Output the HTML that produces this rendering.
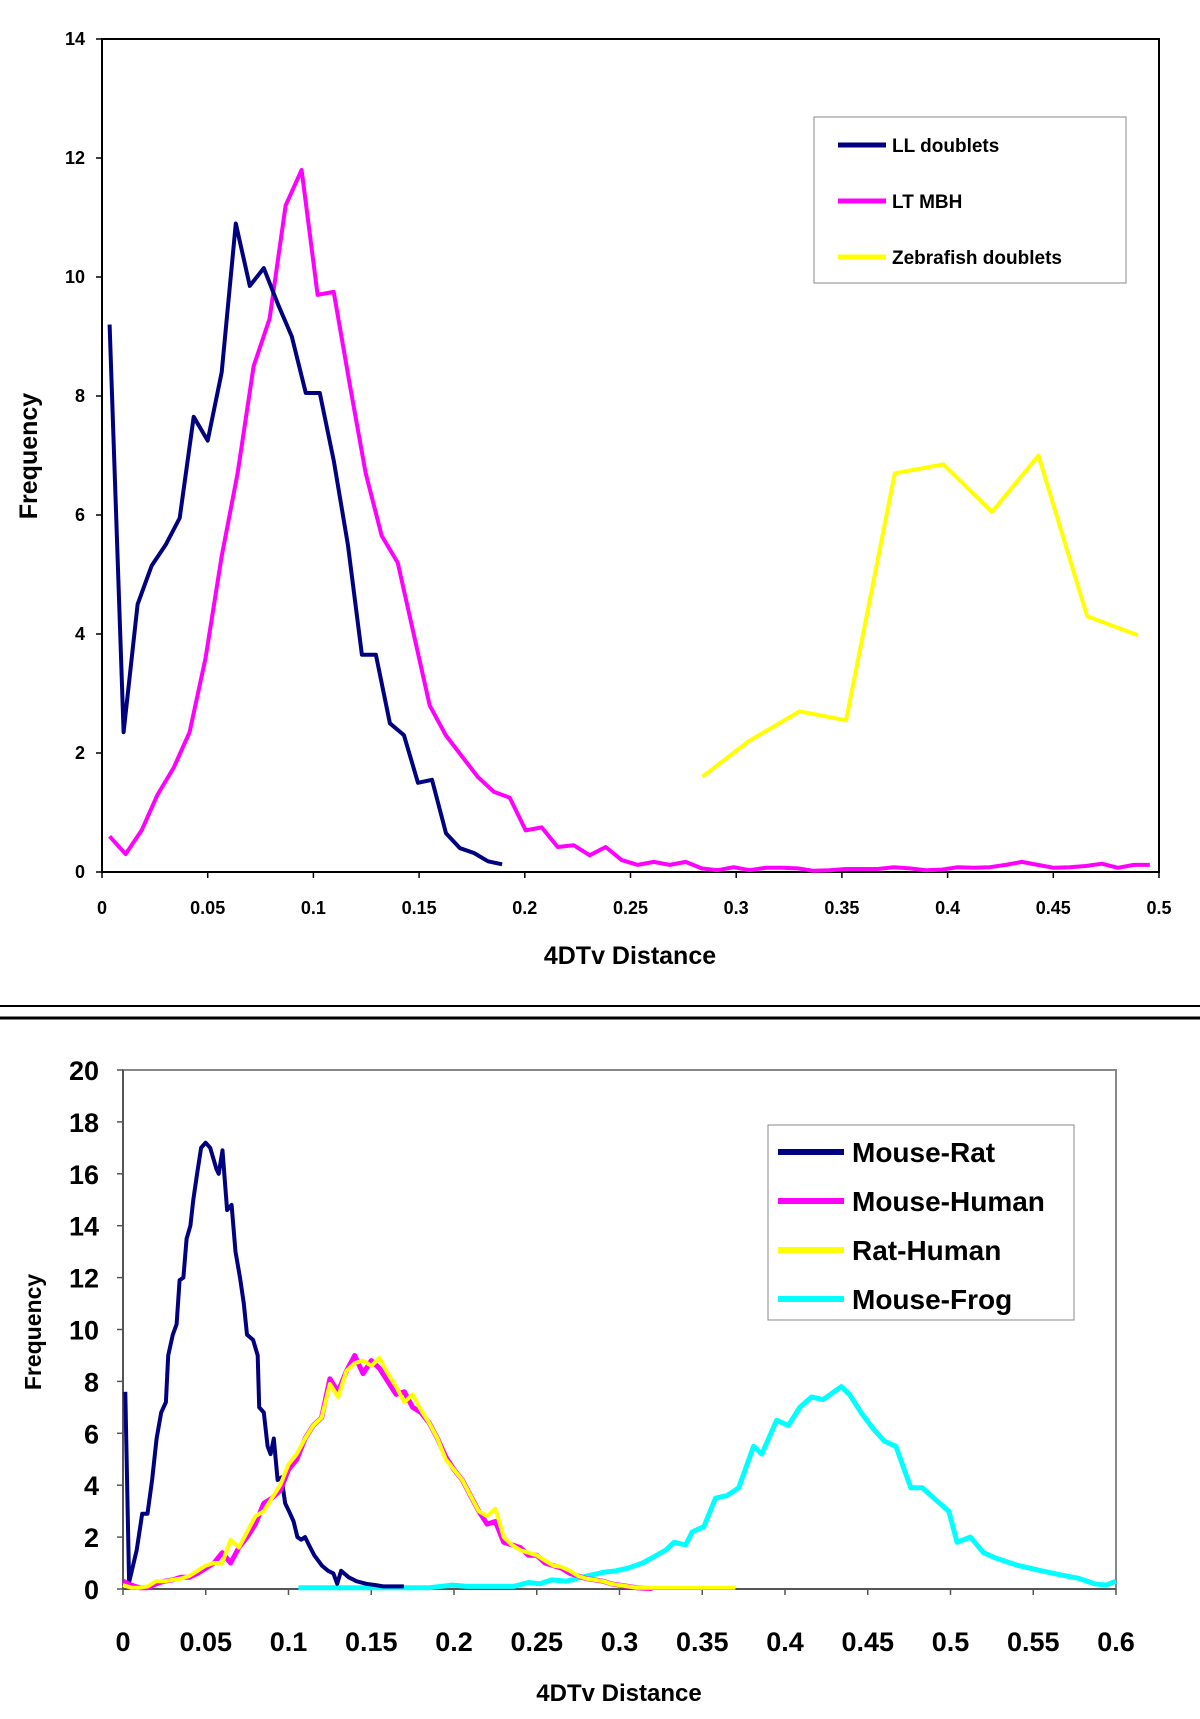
<!DOCTYPE html>
<html><head><meta charset="utf-8">
<style>
html,body{margin:0;padding:0;background:#fff;}
svg{display:block;font-family:"Liberation Sans",Arial,sans-serif;}
</style></head>
<body>
<svg id="fig" width="1200" height="1719" viewBox="0 0 1200 1719" xmlns="http://www.w3.org/2000/svg">
  <rect x="0" y="0" width="1200" height="1719" fill="#fff"/>
  <line x1="0" y1="1006" x2="1200" y2="1006" stroke="#000" stroke-width="2"/>
  <line x1="0" y1="1018" x2="1200" y2="1018" stroke="#000" stroke-width="3"/>
  <g id="top"></g>
  <g id="bot"></g>
</svg>
<script>
// ---------- TOP CHART DATA ----------
const llStart = 0.0036, llStep = 0.00663;
const llValues = [9.2,2.35,4.5,5.15,5.5,5.95,7.65,7.25,8.4,10.9,9.85,10.15,9.55,9.0,8.05,8.05,6.9,5.5,3.65,3.65,2.5,2.3,1.5,1.55,0.65,0.4,0.32,0.18,0.13];
const mbhStart = 0.0036, mbhStep = 0.00757;
const mbhValues = [0.6,0.3,0.7,1.3,1.75,2.35,3.6,5.3,6.7,8.5,9.3,11.2,11.8,9.7,9.75,8.2,6.7,5.65,5.2,4.0,2.8,2.3,1.95,1.6,1.35,1.25,0.7,0.75,0.42,0.45,0.28,0.42,0.2,0.12,0.17,0.12,0.17,0.06,0.03,0.08,0.03,0.07,0.07,0.06,0.02,0.03,0.05,0.05,0.05,0.08,0.06,0.03,0.04,0.08,0.07,0.08,0.12,0.17,0.12,0.07,0.08,0.1,0.14,0.07,0.12,0.12];
const zfX = [0.284,0.306,0.330,0.352,0.375,0.398,0.421,0.443,0.466,0.490];
const zfValues = [1.6,2.2,2.7,2.55,6.7,6.85,6.05,7.0,4.3,3.98];
const topYTicks = [0,2,4,6,8,10,12,14];
const topXTicks = [0,0.05,0.1,0.15,0.2,0.25,0.3,0.35,0.4,0.45,0.5];
const topXLabels = ["0","0.05","0.1","0.15","0.2","0.25","0.3","0.35","0.4","0.45","0.5"];
const topLegend = ["LL doublets","LT MBH","Zebrafish doublets"];

// ---------- BOTTOM CHART DATA ----------
const mrX = [0.0014,0.0037,0.0083,0.0116,0.0148,0.0176,0.0203,0.0231,0.0259,0.0273,0.0301,0.0324,0.0342,0.0365,0.0384,0.0407,0.0425,0.0448,0.0472,0.0499,0.0527,0.0564,0.0578,0.0601,0.0629,0.0656,0.068,0.0707,0.073,0.0749,0.0786,0.0814,0.0823,0.0851,0.0874,0.0892,0.0911,0.0934,0.0957,0.098,0.1003,0.1031,0.1054,0.1077,0.11,0.1123,0.1156,0.1202,0.1239,0.1271,0.1294,0.1318,0.1364,0.141,0.147,0.1526,0.1572,0.1641,0.1697];
const mrValues = [7.6,0.26,1.5,2.9,2.9,4.2,5.8,6.8,7.2,9,9.8,10.2,11.9,12,13.5,14,15,16,17,17.2,17,16.2,16,16.9,14.6,14.8,13,12,11,9.8,9.6,9,7,6.8,5.5,5.2,5.8,4.2,4.3,3.3,3.0,2.6,2.0,1.9,2.0,1.7,1.3,0.9,0.7,0.6,0.2,0.7,0.45,0.3,0.2,0.15,0.1,0.1,0.1];
const gridStep = 0.005;
const mhValues = [0.3,0.15,0.05,0.05,0.2,0.3,0.35,0.45,0.45,0.6,0.8,1.0,1.4,1.0,1.6,2.0,2.5,3.3,3.5,3.8,4.6,5.0,5.8,6.3,6.6,8.1,7.6,8.4,9.0,8.3,8.8,8.5,8.0,7.5,7.6,7.0,6.8,6.4,5.8,5.1,4.6,4.2,3.6,3.0,2.5,2.6,1.8,1.7,1.6,1.3,1.3,1.0,0.9,0.8,0.6,0.5,0.4,0.35,0.3,0.2,0.15,0.1,0.05,0.03,0.02];
const rhValues = [0.15,0.05,0.05,0.1,0.3,0.3,0.35,0.4,0.5,0.7,0.9,1.0,1.0,1.9,1.6,2.2,2.8,3.0,3.5,4.0,4.8,5.2,5.8,6.3,6.6,7.9,7.4,8.4,8.7,8.8,8.6,8.9,8.3,7.8,7.2,7.5,6.9,6.4,5.8,5.0,4.6,4.2,3.6,3.0,2.8,3.1,2.0,1.7,1.5,1.4,1.3,1.1,0.9,0.85,0.7,0.5,0.4,0.35,0.3,0.2,0.15,0.1,0.05,0.05,0.05,0.05,0.05,0.05,0.05,0.05,0.05,0.05,0.05,0.05,0.05];
const mfX = [0.106,0.185,0.199,0.208,0.236,0.245,0.252,0.259,0.268,0.277,0.284,0.291,0.298,0.305,0.314,0.321,0.328,0.333,0.34,0.344,0.351,0.358,0.365,0.372,0.381,0.386,0.395,0.402,0.409,0.416,0.423,0.434,0.439,0.446,0.453,0.46,0.467,0.476,0.483,0.49,0.499,0.504,0.512,0.52,0.527,0.541,0.548,0.555,0.566,0.578,0.587,0.594,0.6];
const mfValues = [0.05,0.05,0.15,0.1,0.1,0.25,0.2,0.35,0.3,0.45,0.55,0.65,0.7,0.8,1.0,1.25,1.5,1.8,1.7,2.2,2.4,3.5,3.6,3.9,5.5,5.2,6.5,6.3,7.0,7.4,7.3,7.8,7.5,6.8,6.2,5.7,5.5,3.9,3.9,3.5,3.0,1.8,2.0,1.4,1.2,0.9,0.8,0.7,0.55,0.4,0.2,0.15,0.3];
const botYTicks = [0,2,4,6,8,10,12,14,16,18,20];
const botXTicks = [0,0.05,0.1,0.15,0.2,0.25,0.3,0.35,0.4,0.45,0.5,0.55,0.6];
const botXLabels = ["0","0.05","0.1","0.15","0.2","0.25","0.3","0.35","0.4","0.45","0.5","0.55","0.6"];
const botLegend = ["Mouse-Rat","Mouse-Human","Rat-Human","Mouse-Frog"];

const NS = "http://www.w3.org/2000/svg";
function mk(parent, tag, attrs, text){
  const el = document.createElementNS(NS, tag);
  for (const k in attrs) el.setAttribute(k, attrs[k]);
  if (text !== undefined) el.textContent = text;
  parent.appendChild(el);
  return el;
}
function scale(d0,d1,r0,r1){ return v => r0 + (v-d0)/(d1-d0)*(r1-r0); }
function pathFrom(xs, ys, sx, sy){
  return xs.map((x,i)=> (i?'L':'M') + sx(x).toFixed(1) + ',' + sy(ys[i]).toFixed(1)).join(' ');
}

// ---------- TOP ----------
(function(){
  const g = document.getElementById('top');
  const L=102, R=1159, T=39, B=872;
  const sx = scale(0,0.5,L,R), sy = scale(0,14,B,T);
  const frame = mk(g,'rect',{x:L,y:T,width:R-L,height:B-T,fill:'none',stroke:'#000','stroke-width':2});
  
  
  topYTicks.forEach(v=>{
    const t = mk(g,'line',{x1:L-6,x2:L,y1:sy(v),y2:sy(v),stroke:'#000','stroke-width':1.5});
    
    
    const lb = mk(g,'text',{x:L-17,y:sy(v)+6,'text-anchor':'end','font-size':18,'font-weight':'bold'},String(v));
    
    
  });
  topXTicks.forEach((v,i)=>{
    const t = mk(g,'line',{x1:sx(v),x2:sx(v),y1:B,y2:B+6,stroke:'#000','stroke-width':1.5});
    
    
    const lb = mk(g,'text',{x:sx(v),y:914,'text-anchor':'middle','font-size':18,'font-weight':'bold'},topXLabels[i]);
    
    
  });
  const xt = mk(g,'text',{x:630,y:964,'text-anchor':'middle','font-size':25,'font-weight':'bold'},'4DTv Distance');
  
  
  const yt = mk(g,'text',{x:0,y:0,transform:'translate(37,456) rotate(-90)','text-anchor':'middle','font-size':25,'font-weight':'bold'},'Frequency');
  
  

  const llX = llValues.map((_,i)=>llStart+i*llStep);
  const mbhX = mbhValues.map((_,i)=>mbhStart+i*mbhStep);
  const s1 = mk(g,'path',{d:pathFrom(mbhX,mbhValues,sx,sy),fill:'none',stroke:'#ff00ff','stroke-width':4,'stroke-linejoin':'round'});
  
  
  const s0 = mk(g,'path',{d:pathFrom(llX,llValues,sx,sy),fill:'none',stroke:'#000080','stroke-width':4,'stroke-linejoin':'round'});
  
  
  const s2 = mk(g,'path',{d:pathFrom(zfX,zfValues,sx,sy),fill:'none',stroke:'#ffff00','stroke-width':4,'stroke-linejoin':'round'});
  
  

  const lg = mk(g,'g',{});
  
  
  mk(lg,'rect',{x:814,y:117,width:312,height:166,fill:'#fff',stroke:'#888','stroke-width':1});
  const cols=['#000080','#ff00ff','#ffff00'];
  topLegend.forEach((name,i)=>{
    const y = 145 + i*56;
    const e = mk(lg,'g',{});
    
    
    mk(e,'line',{x1:838,x2:886,y1:y,y2:y,stroke:cols[i],'stroke-width':5});
    mk(e,'text',{x:892,y:y+7,'font-size':19,'font-weight':'bold'},name);
  });
})();

// ---------- BOTTOM ----------
(function(){
  const g = document.getElementById('bot');
  const L=123, R=1116, T=1070, B=1589;
  const sx = scale(0,0.6,L,R), sy = scale(0,20,B,T);
  const frame = mk(g,'rect',{x:L,y:T,width:R-L,height:B-T,fill:'none',stroke:'#888','stroke-width':2});
  
  
  mk(g,'line',{x1:L,x2:L,y1:T,y2:B,stroke:'#555','stroke-width':2});
  mk(g,'line',{x1:L,x2:R,y1:B,y2:B,stroke:'#555','stroke-width':2});
  botYTicks.forEach(v=>{
    const t = mk(g,'line',{x1:L-6,x2:L,y1:sy(v),y2:sy(v),stroke:'#555','stroke-width':1.5});
    
    
    const lb = mk(g,'text',{x:L-24,y:sy(v)+10,'text-anchor':'end','font-size':27,'font-weight':'bold','font-family':'"Liberation Sans Narrow","Liberation Sans",sans-serif'},String(v));
    
    
  });
  botXTicks.forEach((v,i)=>{
    const t = mk(g,'line',{x1:sx(v),x2:sx(v),y1:B,y2:B+6,stroke:'#555','stroke-width':1.5});
    
    
    const lb = mk(g,'text',{x:sx(v),y:1651,'text-anchor':'middle','font-size':27,'font-weight':'bold','font-family':'"Liberation Sans Narrow","Liberation Sans",sans-serif'},botXLabels[i]);
    
    
  });
  const xt = mk(g,'text',{x:619,y:1701,'text-anchor':'middle','font-size':24,'font-weight':'bold','font-family':'"Liberation Sans Narrow","Liberation Sans",sans-serif'},'4DTv Distance');
  
  
  const yt = mk(g,'text',{x:0,y:0,transform:'translate(41,1332) rotate(-90)','text-anchor':'middle','font-size':23,'font-weight':'bold'},'Frequency');
  
  

  const gx = n => Array.from({length:n},(_,i)=>i*gridStep);
  const sf = mk(g,'path',{d:pathFrom(mfX,mfValues,sx,sy),fill:'none',stroke:'#00ffff','stroke-width':5,'stroke-linejoin':'round'});
  
  
  const sr = mk(g,'path',{d:pathFrom(mrX,mrValues,sx,sy),fill:'none',stroke:'#000080','stroke-width':4,'stroke-linejoin':'round'});
  
  
  const sh = mk(g,'path',{d:pathFrom(gx(mhValues.length),mhValues,sx,sy),fill:'none',stroke:'#ff00ff','stroke-width':5,'stroke-linejoin':'round'});
  
  
  const srh = mk(g,'path',{d:pathFrom(gx(rhValues.length),rhValues,sx,sy),fill:'none',stroke:'#ffff00','stroke-width':4,'stroke-linejoin':'round'});
  
  

  const lg = mk(g,'g',{});
  
  
  mk(lg,'rect',{x:768,y:1125,width:306,height:195,fill:'#fff',stroke:'#888','stroke-width':1});
  const cols=['#000080','#ff00ff','#ffff00','#00ffff'];
  botLegend.forEach((name,i)=>{
    const y = 1152 + i*49;
    const e = mk(lg,'g',{});
    
    
    mk(e,'line',{x1:778,x2:844,y1:y,y2:y,stroke:cols[i],'stroke-width':6});
    mk(e,'text',{x:852,y:y+10,'font-size':28,'font-weight':'bold'},name);
  });
})();
</script>
</body></html>
